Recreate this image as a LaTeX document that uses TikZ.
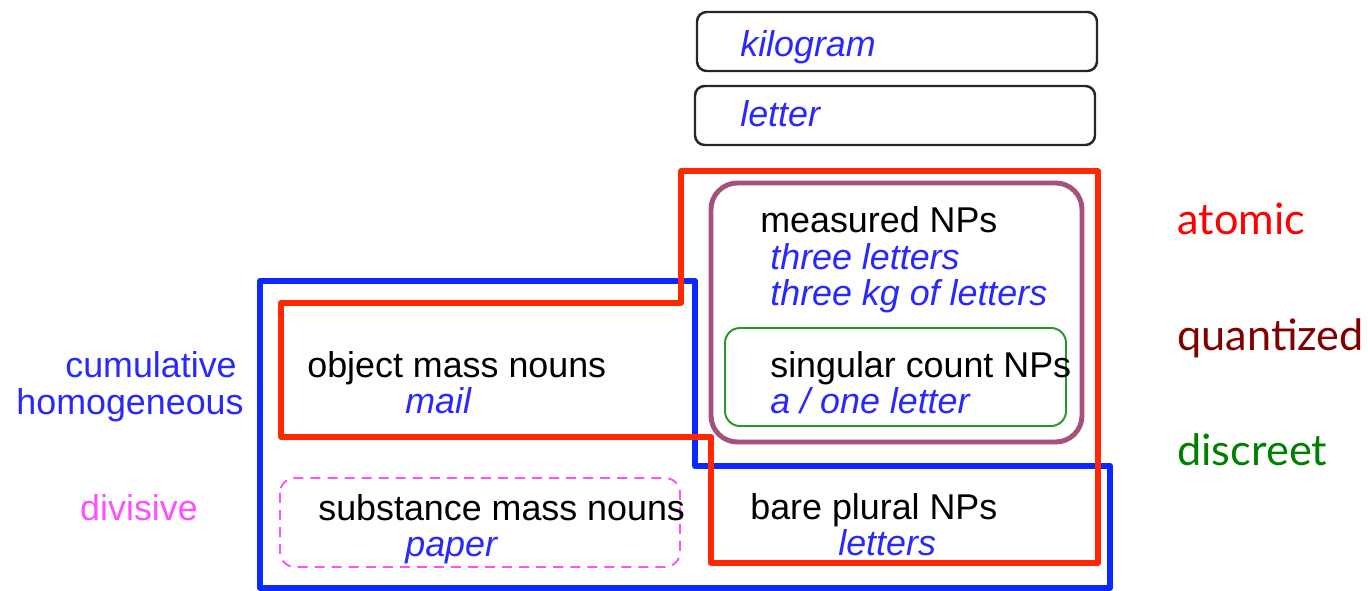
\documentclass[tikz,border=0pt]{standalone}
\usepackage{fontspec}
\setmainfont{Liberation Sans}
\newfontfamily\gillfont{Lato}

\definecolor{setred}{RGB}{255,40,0}
\definecolor{setblue}{RGB}{10,40,255}
\definecolor{setpurple}{RGB}{165,80,125}
\definecolor{setgreen}{RGB}{40,150,40}
\definecolor{exblue}{RGB}{40,40,255}
\definecolor{divmagenta}{RGB}{255,80,255}
\definecolor{quantred}{RGB}{128,0,0}
\definecolor{discgreen}{RGB}{0,128,0}

\tikzset{
  term/.style={anchor=base west, inner sep=0pt, font=\fontsize{20.4}{24}\selectfont},
  example/.style={term, text=exblue, font=\fontsize{20.4}{24}\selectfont\itshape},
  property/.style={anchor=base west, inner sep=0pt, font=\gillfont\fontsize{24.6}{28}\selectfont},
  unitbox/.style={draw=black!85, line width=1.4pt, rounded corners=5.5pt}
}

\begin{document}
\begin{tikzpicture}[x=0.02cm,y=-0.02cm]
  \useasboundingbox (0,0) rectangle (1368,591);

  % unit boxes
  \draw[unitbox] (697,12) rectangle (1097,71);
  \draw[unitbox] (695,86) rectangle (1095,145);

  % cumulative / homogeneous region
  \draw[setblue, line width=3.5pt, line join=round]
    (260,281) -- (695,281) -- (695,466) -- (1110,466) -- (1110,588) -- (260,588) -- cycle;

  % atomic region
  \draw[setred, line width=3.2pt, line join=round]
    (681,171) -- (1098,171) -- (1098,563) -- (711,563) -- (711,437)
    -- (281,437) -- (281,303) -- (681,303) -- cycle;

  % quantized and discreet regions
  \draw[setpurple, line width=2.8pt, rounded corners=15pt] (711,183) rectangle (1082,442);
  \draw[setgreen, line width=1.1pt, rounded corners=8.5pt] (725,328) rectangle (1066,426);

  % divisive region
  \draw[divmagenta, line width=1.1pt, dash pattern=on 5.7pt off 4pt, rounded corners=8.5pt]
    (280,478) rectangle (680,567);

  % texts
  \node[example] (kilogram) at (740,57) {kilogram};
  \node[example] (letter) at (740,127) {letter};

  \node[term] (measured) at (760,233) {measured NPs};
  \node[example] (three) at (770,269) {three letters};
  \node[example] (threekg) at (770,305) {three kg of letters};

  \node[term] (singular) at (770,377) {singular count NPs};
  \node[example] (oneletter) at (770,413) {a / one letter};

  \node[term] (object) at (307,377) {object mass nouns};
  \node[example] (mail) at (405,413) {mail};

  \node[term] (substance) at (318,520) {substance mass nouns};
  \node[example] (paper) at (405,556) {paper};

  \node[term] (bare) at (750,519) {bare plural NPs};
  \node[example] (letters) at (838,555) {letters};

  \node[term, text=exblue, anchor=base] (cumulative) at (151,377) {cumulative};
  \node[term, text=exblue, anchor=base] (homogeneous) at (130,414) {homogeneous};
  \node[term, text=divmagenta, anchor=base] (divisive) at (139,520) {divisive};

  \node[property, text=red] (atomic) at (1177,235) {atomic};
  \node[property, text=quantred] (quantized) at (1177,350) {quantized};
  \node[property, text=discgreen] (discreet) at (1177,465) {discreet};

\end{tikzpicture}
\end{document}
